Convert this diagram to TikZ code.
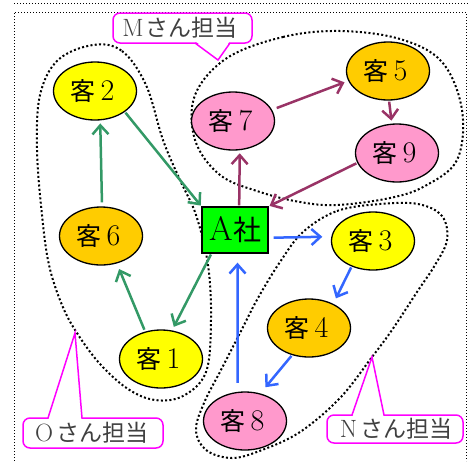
\documentclass[tikz,border=0pt]{standalone}
\usepackage{fontspec}
\newfontfamily\cjk{Noto Sans CJK JP}
\usetikzlibrary{shapes.geometric,arrows.meta}
\definecolor{cYel}{HTML}{FFFF00}
\definecolor{cOra}{HTML}{FFCC00}
\definecolor{cPnk}{HTML}{FF99CC}
\definecolor{cGrn}{HTML}{00FF00}
\definecolor{aGrn}{HTML}{339966}
\definecolor{aPur}{HTML}{993366}
\definecolor{aBlu}{HTML}{3366FF}
\definecolor{cMag}{HTML}{FF00FF}
\newcommand{\kyaku}[1]{{\cjk 客}\makebox[24pt]{\fontsize{30}{30}\selectfont #1}}
\newcommand{\tantou}[1]{\makebox[24pt]{\fontsize{25}{25}\selectfont #1}{\cjk さん担当}}
\begin{document}
\begin{tikzpicture}[x=1pt,y=-1pt,
  cust/.style={ellipse,draw=black,line width=1.3pt,minimum width=83pt,minimum height=58pt,inner sep=0pt,font=\fontsize{25}{25}\selectfont},
  yel/.style={cust,fill=cYel},
  ora/.style={cust,fill=cOra},
  pnk/.style={cust,fill=cPnk},
  comp/.style={rectangle,draw=black,line width=1.3pt,fill=cGrn,minimum width=66pt,minimum height=46pt,inner sep=0pt,font=\fontsize{28}{28}\selectfont},
  arr/.style={line width=2.5pt,-{Straight Barb[length=9pt,width=16pt]}},
  blob/.style={line width=2pt,dash pattern=on 2pt off 2.3pt},
  frame/.style={line width=1pt,dash pattern=on 1pt off 2pt},
  cbox/.style={draw=cMag,line width=1.5pt},
  ctext/.style={text=black!75,font=\fontsize{23}{23}\selectfont,inner sep=0pt}
]
\useasboundingbox (0,0) rectangle (473,461);
% frame
\draw[frame] (14,3) -- (468,3);
\draw[frame] (14,461) -- (14,12) -- (466,12) -- (466,461);
% groups
\draw[blob] plot[smooth cycle,tension=0.6] coordinates {(93,45) (122,51) (146,85) (163,140) (180,180) (196,215) (208,265) (211,320) (206,372) (183,396) (155,400) (128,389) (100,364) (77,333) (62,305) (49,265) (42,215) (37,150) (40,95) (58,60)};
\draw[blob] plot[smooth cycle,tension=0.6] coordinates {(227,58) (283,37) (340,31) (400,39) (442,62) (462,110) (457,160) (425,186) (390,198) (337,205) (300,202) (260,192) (220,175) (195,140) (195,95)};
\draw[blob] plot[smooth cycle,tension=0.6] coordinates {(303,232) (337,211) (380,204) (418,204) (442,216) (447,240) (435,265) (417,292) (392,330) (372,357) (340,398) (300,432) (262,450) (232,458) (206,450) (196,430) (204,403) (222,368) (240,333) (258,298) (280,262)};
% nodes
\node[yel] (k2) at (95,91) {\kyaku{2}};
\node[ora] (k6) at (101,236) {\kyaku{6}};
\node[yel] (k1) at (161,359) {\kyaku{1}};
\node[comp] (A) at (235,230) {\makebox[24pt]{\fontsize{34}{34}\selectfont A}{\cjk 社}};
\node[pnk] (k7) at (233,121) {\kyaku{7}};
\node[ora] (k5) at (388,71) {\kyaku{5}};
\node[pnk] (k9) at (397,153) {\kyaku{9}};
\node[yel] (k3) at (373,241) {\kyaku{3}};
\node[ora] (k4) at (309,328) {\kyaku{4}};
\node[pnk] (k8) at (245,421) {\kyaku{8}};
% green
\draw[arr,aGrn,shorten <=1pt,shorten >=1pt] (k2.-35) -- (A.north west);
\draw[arr,aGrn,shorten <=4pt,shorten >=3pt] (k6.88) -- (k2.-80);
\draw[arr,aGrn,shorten <=2pt,shorten >=6pt] (k1.120) -- (k6.-60);
\draw[arr,aGrn,shorten <=1pt,shorten >=4pt] (A.-135) -- (k1.69);
% purple
\draw[arr,aPur,shorten <=1pt,shorten >=3pt] (A.80) -- (k7.-77);
\draw[arr,aPur,shorten <=5pt,shorten >=4pt] (k7.16) -- (k5.194);
\draw[arr,aPur,shorten <=1pt,shorten >=3pt] (k5.-88) -- (k9.100);
\draw[arr,aPur,shorten <=1pt,shorten >=1pt] (k9.194) -- (A.north east);
% blue
\draw[arr,aBlu,shorten <=5pt,shorten >=9pt] (A.-13) -- (k3.174);
\draw[arr,aBlu,shorten <=1pt,shorten >=6pt] (k3.-130) -- (k4.45);
\draw[arr,aBlu,shorten <=1pt,shorten >=8pt] (k4.-122) -- (k8.61);
\draw[arr,aBlu,shorten <=9pt,shorten >=9pt] (k8.104) -- (A.-84);
% callouts
\draw[cbox,fill=white,rounded corners=7pt] (113,13) rectangle (252,43);
\fill[white] (196,41.5) -- (229.5,41.5) -- (218,60) -- cycle;
\draw[cbox,line join=miter] (195,43) -- (218,60) -- (230,43);
\node[ctext] (lm) at (179,28) {\tantou{M}};
\draw[cbox,fill=white,rounded corners=7pt] (23,418) rectangle (163,448);
\fill[white] (48.5,419.5) -- (81.5,419.5) -- (75,333) -- cycle;
\draw[cbox] (48,418) -- (75,333) -- (82,418);
\node[ctext] (lo) at (90,433) {\tantou{O}};
\draw[cbox,fill=white,rounded corners=7pt] (327,415) rectangle (463,443);
\fill[white] (352.5,416.5) -- (383.5,416.5) -- (372,357) -- cycle;
\draw[cbox] (352,415) -- (372,357) -- (384,415);
\node[ctext] (ln) at (394.5,429) {\tantou{N}};
\end{tikzpicture}
\end{document}
